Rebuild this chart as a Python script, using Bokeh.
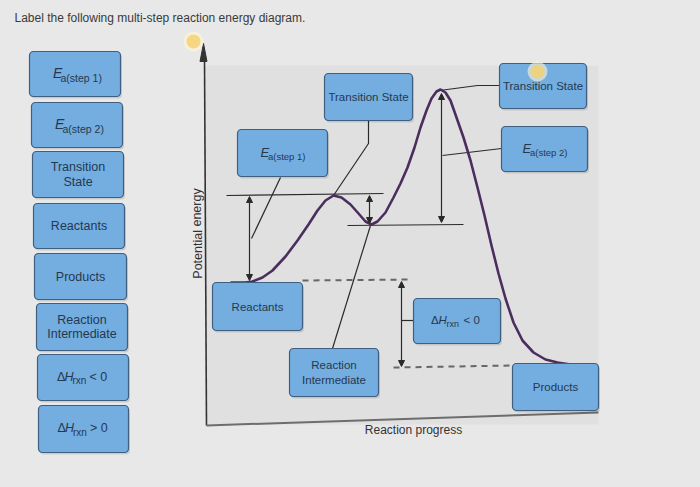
from bokeh.plotting import figure
from bokeh.models import Range1d, Arrow, NormalHead
from bokeh.core.properties import value
from bokeh.embed import file_html
from bokeh.resources import INLINE

# ---------------- data ----------------
title_text = "Label the following multi-step reaction energy diagram."
x_axis_label = "Reaction progress"
y_axis_label = "Potential energy"

# energy profile: reaction progress vs potential energy (picture units, y grows downward)
curve_progress = [230, 245, 252, 262, 272, 285, 297, 308, 317, 325, 333, 341, 350, 358, 365,
                  371, 377, 385, 393, 400, 407, 414, 420, 426, 431, 436, 440, 445, 450, 456,
                  463, 470, 477, 484, 491, 498, 505, 513, 522, 533, 545, 557, 570, 582]
curve_energy = [282, 282, 281, 277, 270, 256, 240, 224, 210, 200, 195, 197, 204, 213, 221,
                224, 221, 212, 197, 183, 167, 147, 127, 110, 98, 91, 89, 92, 100, 117,
                137, 160, 187, 215, 245, 273, 298, 322, 340, 352, 359, 362, 364, 364]

# characteristic energy levels
level_reactants = 281
level_ts1 = 194
level_intermediate = 224
level_ts2 = 89
level_products = 366

# label bank (left column)
bank_labels = ["Ea1", "Ea2", "Transition\nState", "Reactants", "Products",
               "Reaction\nIntermediate", "dH<0", "dH>0"]
# labels placed on the diagram
placed_labels = ["Transition State", "Ea1", "Reactants", "Reaction\nIntermediate",
                 "dH<0", "Transition State", "Ea2", "Products"]

# ---------------- layout (positions / styles) ----------------
bank_boxes = [(29, 120, 51, 96), (31, 122, 102, 147), (32, 123, 151, 197), (33, 124, 203, 248),
              (34, 126, 253, 299), (36, 127, 303, 350), (37, 128, 354, 400), (38, 128, 405, 452)]
placed_boxes = [(324, 412, 73, 120), (237, 327, 129, 176), (212, 302, 282, 330),
                (289, 378, 348, 396), (413, 500, 298, 343), (499, 586, 63, 108),
                (501, 587, 126, 171), (512, 598, 363, 410)]

BG = "#e8e8e8"
PANEL = "#e0e0e0"
BOX_FILL = "#74ade0"
BOX_LINE = "#3f5f80"
TXT = "#24394f"
LINE = "#2a2a2a"
CURVE = "#4b2d5e"
FONT = "Liberation Sans"

p = figure(width=684, height=471, x_range=Range1d(0, 684), y_range=Range1d(471, 0),
           x_axis_type=None, y_axis_type=None, output_backend="svg",
           toolbar_location=None, min_border=0)
p.grid.visible = False
p.outline_line_color = None
p.background_fill_color = BG
p.border_fill_color = BG

# chart panel
p.quad(left=[205], right=[598], top=[65], bottom=[424], fill_color=PANEL, line_color=None)


def txt(x, y, s, size, align="center", style="normal", color=TXT, angle=0.0):
    p.text(x=[x], y=[y], text=[s], text_font=value(FONT), text_font_size=f"{size}px",
           text_align=align, text_baseline="middle", text_color=color,
           text_font_style=style, angle=angle)


def box(b):
    l, r, t, btm = b
    p.quad(left=[l + 1.5], right=[r + 1.5], top=[t + 2], bottom=[btm + 2],
           fill_color="#000000", fill_alpha=0.12, line_color=None, border_radius=4)
    p.quad(left=[l], right=[r], top=[t], bottom=[btm], fill_color=BOX_FILL,
           line_color=BOX_LINE, line_width=1.2, border_radius=4)


def label(lbl, b, size):
    l, r, t, btm = b
    cx = (l + r) / 2
    cy = (t + btm) / 2
    if lbl in ("Ea1", "Ea2"):
        step = "1" if lbl == "Ea1" else "2"
        txt(cx - 22, cy - 1, "E", size + 1.5, align="left", style="italic")
        txt(cx - 14.5, cy + 3.5, f"a(step {step})", size - 2, align="left")
    elif lbl in ("dH<0", "dH>0"):
        sign = "<" if lbl == "dH<0" else ">"
        txt(cx - 26, cy - 1, "\u0394", size, align="left")
        txt(cx - 18.5, cy - 1, "H", size, align="left", style="italic")
        txt(cx - 10.5, cy + 3, "rxn", size - 2.5, align="left")
        txt(cx + 6.5, cy - 1, f"{sign} 0", size, align="left")
    else:
        lines = lbl.split("\n")
        n = len(lines)
        for i, s in enumerate(lines):
            txt(cx, cy + (i - (n - 1) / 2) * 14.5, s, size)


# ---------- title ----------
txt(14, 17, title_text, 12, align="left", color="#3a3a3a")

# ---------- bank ----------
for lbl, b in zip(bank_labels, bank_boxes):
    box(b)
    label(lbl, b, 12.5)

# ---------- axes ----------
p.line(x=[204, 206], y=[58, 425], line_color="#333333", line_width=1.6)
p.patch(x=[203, 199.5, 206.5], y=[43, 61, 61], fill_color="#333333", line_color="#333333")
p.line(x=[206, 598], y=[425, 412], line_color="#6d6d6d", line_width=2)
txt(413, 429, x_axis_label, 12, color="#333333")
txt(197, 233, y_axis_label, 12.5, color="#333333", angle=1.5708)

# ---------- reference lines ----------
lw = 1.2
p.line(x=[226, 383], y=[level_ts1 + 1, level_ts1 - 1], line_color=LINE, line_width=lw)
p.line(x=[347, 463], y=[level_intermediate + 1, level_intermediate], line_color=LINE, line_width=lw)
p.line(x=[302, 412], y=[level_reactants - 1, level_reactants - 2], line_color="#666666",
       line_width=2, line_dash="6 5")
p.line(x=[393, 512], y=[level_products + 1, level_products - 1], line_color="#666666",
       line_width=2, line_dash="6 5")


def darrow(x, y0, y1):
    p.add_layout(Arrow(x_start=x, y_start=y0, x_end=x, y_end=y1, line_color=LINE, line_width=lw,
                       start=NormalHead(size=6, fill_color=LINE, line_color=LINE),
                       end=NormalHead(size=6, fill_color=LINE, line_color=LINE)))


darrow(249, level_ts1 + 2, level_reactants - 1)
darrow(369, level_ts1 + 1, level_intermediate - 1)
darrow(441, level_ts2 + 4, level_intermediate - 2)
darrow(401, level_reactants, level_products)

# connectors
p.line(x=[280, 251], y=[177, 238], line_color=LINE, line_width=lw)
p.line(x=[368, 368, 333], y=[120, 143, 195], line_color=LINE, line_width=lw)
p.line(x=[370, 332], y=[225, 348], line_color=LINE, line_width=lw)
p.line(x=[439, 477, 499], y=[90, 85, 85], line_color=LINE, line_width=lw)
p.line(x=[442, 501], y=[155, 148], line_color=LINE, line_width=lw)
p.line(x=[401, 413], y=[320, 320], line_color=LINE, line_width=lw)

# ---------- energy curve ----------
p.line(x=curve_progress, y=curve_energy, line_color=CURVE, line_width=2.6, line_join="round")

# ---------- placed labels ----------
for lbl, b in zip(placed_labels, placed_boxes):
    box(b)
    label(lbl, b, 11.5)

# cursor glows
for gx, gy in [(193, 41), (537, 71)]:
    p.circle(x=[gx], y=[gy], radius=10, fill_color="#fff6d6", fill_alpha=0.6, line_color=None)
    p.circle(x=[gx], y=[gy], radius=7, fill_color="#f6cf6a", fill_alpha=0.8, line_color=None)

html = file_html(p, INLINE)
html = html.replace("</head>", "<style>body{background:#e8e8e8;}</style></head>", 1)
open("out.html", "w").write(html)
